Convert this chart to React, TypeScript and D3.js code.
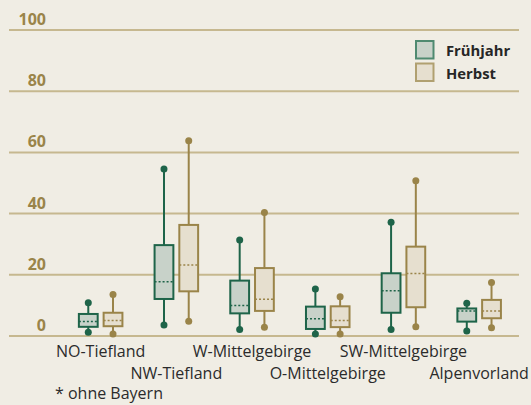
import React from "react";
import * as d3 from "d3";

const regions = ["NO-Tiefland", "NW-Tiefland", "W-Mittelgebirge", "O-Mittelgebirge", "SW-Mittelgebirge", "Alpenvorland"];
const seasons = ["Frühjahr", "Herbst"];
// [min, q1, median, q3, max]
const fruehjahr = [
  [1.2, 3.0, 4.7, 7.2, 10.9],
  [3.6, 12.1, 17.7, 29.7, 54.6],
  [2.1, 7.4, 10.0, 18.1, 31.4],
  [0.65, 2.3, 5.6, 9.6, 15.4],
  [2.1, 7.6, 14.8, 20.5, 37.2],
  [1.6, 4.7, 8.2, 9.0, 10.7],
];
const herbst = [
  [0.65, 3.2, 5.1, 7.6, 13.6],
  [4.8, 14.6, 23.2, 36.3, 63.8],
  [2.9, 8.2, 12.0, 22.2, 40.4],
  [0.65, 2.9, 5.1, 9.7, 12.8],
  [3.0, 9.4, 20.4, 29.2, 50.7],
  [2.7, 5.8, 8.2, 11.8, 17.5],
];
const yTicks = [0, 20, 40, 60, 80, 100];
const footnote = "* ohne Bayern";

const W = 531, H = 405;
const BG = "#f0ede4";
const GRID = "#c6b88f";
const GOLD = "#9a8449";
const GREEN = "#1e6449";
const styles = [
  { stroke: GREEN, fill: "#c8d2c9", legendStroke: "#4f8a70" },
  { stroke: GOLD, fill: "#e6dfcf", legendStroke: "#b0a070" },
];
const FONT = "'Open Sans', 'DejaVu Sans', sans-serif";

export default function App() {
  const y = d3.scaleLinear().domain([0, 100]).range([336, 30]);
  const x0 = d3.scaleBand().domain(regions).range([62.8, 517]).paddingInner(0).paddingOuter(0);
  const x1 = d3.scaleBand().domain(seasons).range([0, x0.bandwidth()]).paddingInner(0.24).paddingOuter(0.65);
  const series = [fruehjahr, herbst];
  const bw = x1.bandwidth();

  return (
    <div style={{ position: "absolute", left: 0, top: 0, width: W, height: H }}>
      <svg width={W} height={H} style={{ display: "block", background: BG }}>
        <rect x={0} y={0} width={W} height={H} fill={BG} />
        {yTicks.map((t) => (
          <g key={t}>
            <line x1={9} x2={519} y1={y(t)} y2={y(t)} stroke={GRID} strokeWidth={2} />
            <text x={46} y={y(t) - 5} textAnchor="end" fontFamily={FONT} fontWeight={700} fontSize={16} fill={GOLD}>
              {t}
            </text>
          </g>
        ))}
        {regions.map((r, i) => (
          <g key={r} transform={`translate(${x0(r)},0)`}>
            {seasons.map((s, k) => {
              const [mn, q1, md, q3, mx] = series[k][i];
              const xl = x1(s)!;
              const cx = xl + bw / 2;
              const st = styles[k];
              return (
                <g key={s}>
                  <line x1={cx} x2={cx} y1={y(mx)} y2={y(mn)} stroke={st.stroke} strokeWidth={2} />
                  <rect x={xl} y={y(q3)} width={bw} height={y(q1) - y(q3)} fill={st.fill} stroke={st.stroke} strokeWidth={2} />
                  <line x1={xl} x2={xl + bw + 1} y1={y(md)} y2={y(md)} stroke={st.stroke} strokeWidth={1.5} strokeDasharray="2,2" />
                  <circle cx={cx} cy={y(mx)} r={3.5} fill={st.stroke} />
                  <circle cx={cx} cy={y(mn)} r={3.5} fill={st.stroke} />
                </g>
              );
            })}
            <text
              x={x0.bandwidth() / 2}
              y={i % 2 === 0 ? 357 : 379}
              textAnchor="middle"
              fontFamily={FONT}
              fontSize={16}
              fill="#2b2b2b"
            >
              {r}
            </text>
          </g>
        ))}
        <text x={55} y={399} fontFamily={FONT} fontSize={16} fill="#2b2b2b">{footnote}</text>
        {seasons.map((s, k) => (
          <g key={s} transform={`translate(416,${41 + k * 22.5})`}>
            <rect x={0} y={0} width={17.5} height={17.5} fill={styles[k].fill} stroke={styles[k].legendStroke} strokeWidth={2} />
            <text x={30} y={15} fontFamily={FONT} fontWeight={700} fontSize={14.8} fill="#262626">{s}</text>
          </g>
        ))}
      </svg>
    </div>
  );
}
